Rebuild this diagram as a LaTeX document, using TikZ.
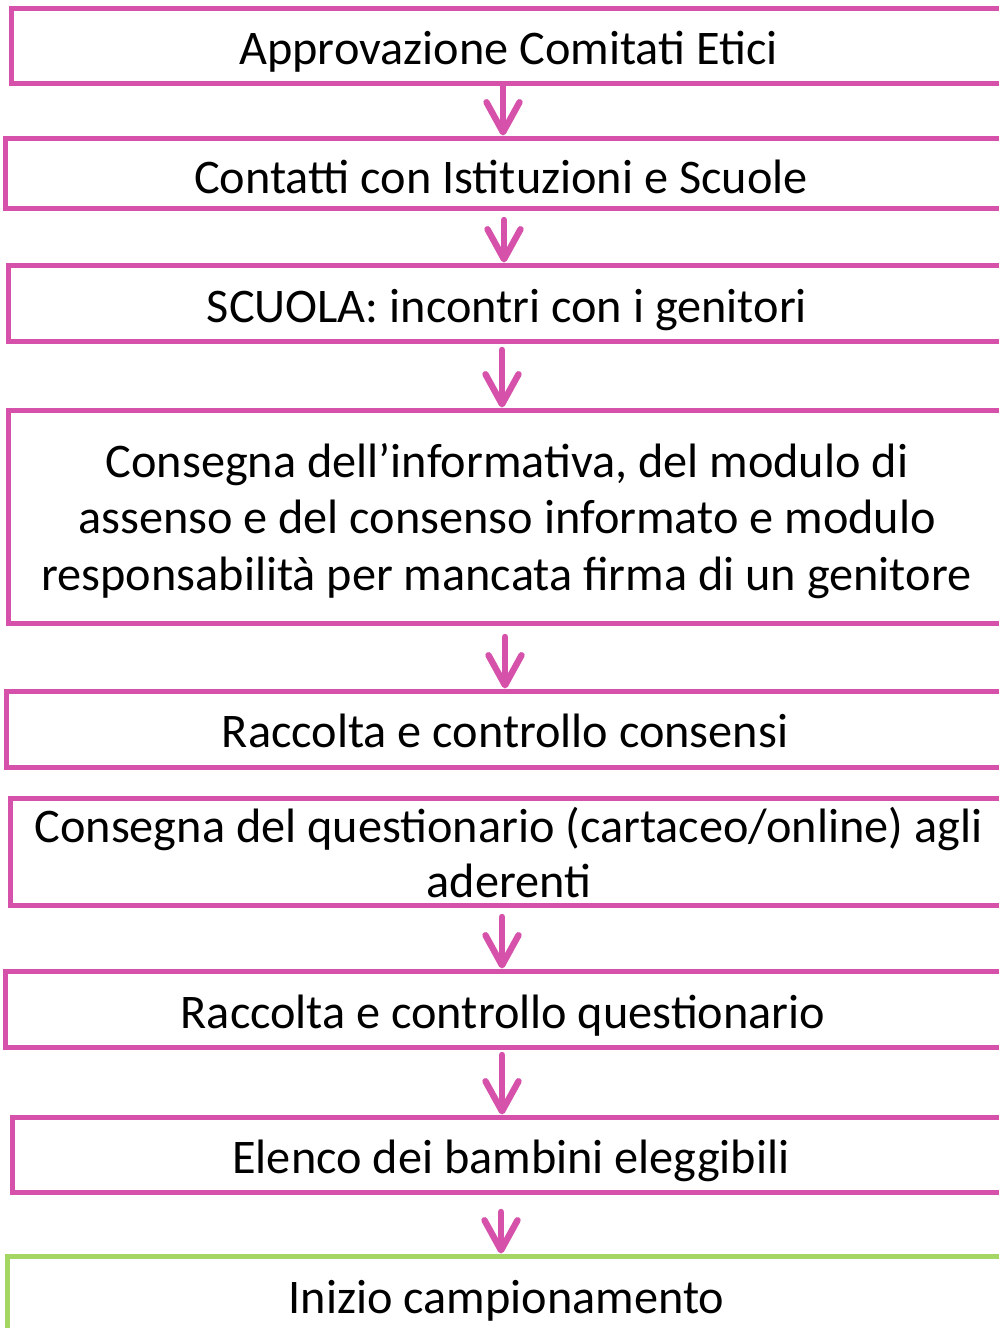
\documentclass[tikz,border=0pt]{standalone}
\usepackage{fontspec}
\setmainfont{Carlito}
\usetikzlibrary{arrows.meta,calc}
\definecolor{pinkc}{RGB}{214,82,170}
\definecolor{greenc}{RGB}{164,214,100}
\newcommand{\pxu}{0.75pt}
\begin{document}
\begin{tikzpicture}[x=0.75pt,y=-0.75pt,
  stepbox/.style={draw=pinkc, line width=3.75pt, anchor=north west, outer sep=0pt, inner sep=0pt},
  lbl/.style={anchor=base, font=\fontsize{36.2pt}{43pt}\selectfont, inner sep=0pt, text=black},
  arr/.style={draw=pinkc, line width=4.8pt, line cap=round, shorten >=1.9pt,
    -{Straight Barb[length=22.5pt,width=24.75pt,line cap=round,line join=round]}}]
\useasboundingbox (0,0) rectangle (999,1328);
% boxes
\node[stepbox, minimum width={998.5*\pxu}, minimum height={75*\pxu}] (b1) at (11.5,8.5) {};
\node[stepbox, minimum width={1005*\pxu}, minimum height={70*\pxu}] (b2) at (5,138) {};
\node[stepbox, minimum width={1002*\pxu}, minimum height={76*\pxu}] (b3) at (8,265) {};
\node[stepbox, minimum width={1002*\pxu}, minimum height={213*\pxu}] (b4) at (8,410) {};
\node[stepbox, minimum width={1004*\pxu}, minimum height={76*\pxu}] (b5) at (6,691) {};
\node[stepbox, minimum width={1000*\pxu}, minimum height={107*\pxu}] (b6) at (10,798) {};
\node[stepbox, minimum width={1005*\pxu}, minimum height={76*\pxu}] (b7) at (5,971) {};
\node[stepbox, minimum width={998*\pxu}, minimum height={75*\pxu}] (b8) at (12,1117) {};
\node[stepbox, draw=greenc, minimum width={1003*\pxu}, minimum height={90*\pxu}] (b9) at (7,1256) {};
% texts
\node[lbl] (t1) at (508.5,64) {Approvazione Comitati Etici};
\node[lbl] (t2) at (501,193) {Contatti con Istituzioni e Scuole};
\node[lbl] (t3) at (507,322) {SCUOLA: incontri con i genitori};
\node[lbl] (t4a) at (507,477) {Consegna dell’informativa, del modulo di};
\node[lbl] (t4b) at (507,533) {assenso e del consenso informato e modulo};
\node[lbl] (t4c) at (506.5,590) {responsabilità per mancata firma di un genitore};
\node[lbl] (t5) at (505,747) {Raccolta e controllo consensi};
\node[lbl] (t6a) at (508.5,842) {Consegna del questionario (cartaceo/online) agli};
\node[lbl] (t6b) at (509,897) {aderenti};
\node[lbl] (t7) at (503,1028) {Raccolta e controllo questionario};
\node[lbl] (t8) at (511,1173) {Elenco dei bambini eleggibili};
\node[lbl] (t9) at (506.5,1313) {Inizio campionamento};
% arrow starts
\coordinate (s1) at (503,86);
\coordinate (s2) at (504,220);
\coordinate (s3) at (502,350);
\coordinate (s4) at (505,637);
\coordinate (s5) at (502,917);
\coordinate (s6) at (502,1055);
\coordinate (s7) at (501,1212);
% arrows
\draw[arr] (s1) -- (s1 |- b2.north);
\draw[arr] (s2) -- (s2 |- b3.north);
\draw[arr] (s3) -- (s3 |- b4.north);
\draw[arr] (s4) -- (s4 |- b5.north);
\draw[arr] (s5) -- (s5 |- b7.north);
\draw[arr] (s6) -- (s6 |- b8.north);
\draw[arr] (s7) -- (s7 |- b9.north);
\end{tikzpicture}
\end{document}
